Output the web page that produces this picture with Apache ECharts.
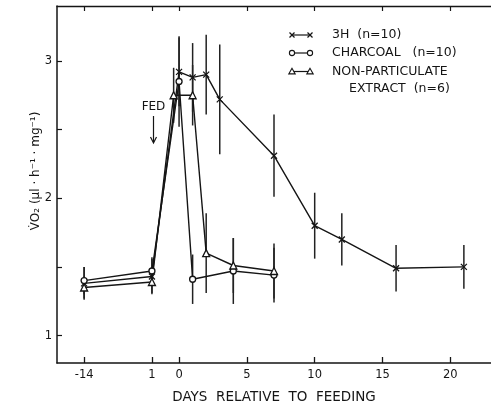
<!DOCTYPE html>
<html><head><meta charset="utf-8">
<script src="https://cdn.jsdelivr.net/npm/echarts@6/dist/echarts.min.js"></script>
<style>html,body{margin:0;padding:0;background:#fff}#c{width:491px;height:409px}</style>
</head><body><div id="c"></div>
<script>
// tick positions (real days) and their printed labels
const tickDays = [-14, -1, 0, 5, 10, 15, 20];
const tickLabels = ['-14', '1', '0', '5', '10', '15', '20'];
const yTicks = [1, 1.5, 2, 2.5, 3];
const yLabels = [1, 2, 3];

// 3H (n=10)
const h3Days = [-14, -1, 0, 1, 2, 3, 7, 10, 12, 16, 21];
const h3Vals = [1.38, 1.43, 2.92, 2.88, 2.90, 2.72, 2.31, 1.80, 1.70, 1.49, 1.50];
const h3Err  = [0.12, 0.13, 0.25, 0.25, 0.29, 0.40, 0.30, 0.24, 0.19, 0.17, 0.16];

// CHARCOAL (n=10)
const chDays = [-14, -1, 0, 1, 4, 7];
const chVals = [1.40, 1.47, 2.85, 1.41, 1.47, 1.44];
const chErr  = [0.10, 0.10, 0.33, 0.18, 0.24, 0.20];

// NON-PARTICULATE EXTRACT (n=6)
const npDays = [-14, -1, -0.2, 1, 2, 4, 7];
const npVals = [1.35, 1.39, 2.75, 2.75, 1.60, 1.51, 1.47];
const npErr  = [0.08, 0.08, 0.20, 0.22, 0.29, 0.20, 0.20];

// broken time axis: map real days to axis position
function xPos(d) {
  if (d >= 0) return d;
  if (d >= -1) return 2 * d;
  return -2 + (d + 1) * 5 / 13;
}
const tickPos = tickDays.map(xPos);
function labelFor(v) {
  for (let i = 0; i < tickPos.length; i++) if (Math.abs(tickPos[i] - v) < 1e-6) return tickLabels[i];
  return '';
}

const INK = '#151515';
const FONT = 'DejaVu Sans';

function pts(days, vals) { return days.map((d, i) => [xPos(d), vals[i]]); }
function errs(days, vals, e) { return days.map((d, i) => [xPos(d), vals[i] - e[i], vals[i] + e[i]]); }

function errSeries(data) {
  return {
    type: 'custom', z: 1, silent: true,
    encode: { x: 0, y: [1, 2] },
    data: data,
    renderItem: function (params, api) {
      const x = api.value(0), lo = api.value(1), hi = api.value(2);
      const p1 = api.coord([x, hi]), p2 = api.coord([x, lo]);
      return { type: 'line', shape: { x1: p1[0], y1: p1[1], x2: p2[0], y2: p2[1] },
               style: { stroke: '#222', lineWidth: 1.5 } };
    }
  };
}

const XSYM = 'path://M0,0L10,10M10,0L0,10';

function lineSeries(name, data, symbol, size) {
  return {
    name: name, type: 'line', z: 3, data: data,
    symbol: symbol, symbolSize: size,
    lineStyle: { color: INK, width: 1.4 },
    itemStyle: { color: '#fff', borderColor: INK, borderWidth: 1.3 },
    emphasis: { disabled: true }
  };
}

const chart = echarts.init(document.getElementById('c'), null, { renderer: 'canvas' });

const axisTextStyle = { color: INK, fontFamily: FONT, fontSize: 11.5 };
const LFONT = '12.5px "' + FONT + '"';

// legend built as graphic
function legendRow(y, kind, lines) {
  const els = [{ type: 'line', shape: { x1: 292, y1: y, x2: 310, y2: y }, style: { stroke: INK, lineWidth: 1.2 } }];
  [292, 310].forEach(function (x) {
    if (kind === 'x') {
      els.push({ type: 'line', shape: { x1: x - 2.5, y1: y - 2.5, x2: x + 2.5, y2: y + 2.5 }, style: { stroke: INK, lineWidth: 1.2 } });
      els.push({ type: 'line', shape: { x1: x - 2.5, y1: y + 2.5, x2: x + 2.5, y2: y - 2.5 }, style: { stroke: INK, lineWidth: 1.2 } });
    } else if (kind === 'o') {
      els.push({ type: 'circle', shape: { cx: x, cy: y, r: 2.6 }, style: { fill: '#fff', stroke: INK, lineWidth: 1.1 } });
    } else {
      els.push({ type: 'polygon', shape: { points: [[x, y - 3.2], [x - 3.2, y + 2.4], [x + 3.2, y + 2.4]] }, style: { fill: '#fff', stroke: INK, lineWidth: 1.1 } });
    }
  });
  lines.forEach(function (l) {
    els.push({ type: 'text', x: l[0], y: l[1], style: { text: l[2], fill: INK, font: LFONT, textVerticalAlign: 'middle' } });
  });
  return els;
}

const graphics = [].concat(
  legendRow(35, 'x', [[332, 35, '3H  (n=10)']]),
  legendRow(53, 'o', [[332, 53, 'CHARCOAL   (n=10)']]),
  legendRow(71.5, 't', [[332, 71.5, 'NON-PARTICULATE'], [349, 88.5, 'EXTRACT  (n=6)']]),
  [
    { type: 'text', x: 153.5, y: 107, style: { text: 'FED', fill: INK, font: '12px "' + FONT + '"', textAlign: 'center', textVerticalAlign: 'middle' } },
    { type: 'line', shape: { x1: 153.5, y1: 116, x2: 153.5, y2: 142 }, style: { stroke: INK, lineWidth: 1.2 } },
    { type: 'polyline', shape: { points: [[150.5, 137], [153.5, 143], [156.5, 137]] }, style: { stroke: INK, lineWidth: 1.2, fill: null } },
    { type: 'text', x: 36, y: 171, rotation: Math.PI / 2,
      style: { text: 'V\u0307O\u2082 (\u03bcl \u00b7 h\u207b\u00b9 \u00b7 mg\u207b\u00b9)', fill: INK, font: '12px "' + FONT + '"', textAlign: 'center', textVerticalAlign: 'middle' } }
  ]
);

chart.setOption({
  animation: false,
  backgroundColor: '#fff',
  grid: { left: 57, right: -9, top: 6, bottom: 46, containLabel: false },
  xAxis: [
    {
      type: 'value', position: 'bottom', min: -9, max: 23,
      axisLine: { show: true, onZero: false, lineStyle: { color: INK, width: 1.5 } },
      axisTick: { show: true, inside: true, length: 6, customValues: tickPos, lineStyle: { color: INK, width: 1.3 } },
      axisLabel: { show: true, customValues: tickPos, formatter: labelFor, margin: 6, ...axisTextStyle },
      splitLine: { show: false },
      name: 'DAYS  RELATIVE  TO  FEEDING', nameLocation: 'middle', nameGap: 27,
      nameTextStyle: { color: INK, fontFamily: FONT, fontSize: 13.5 }
    },
    {
      type: 'value', position: 'top', min: -9, max: 23,
      axisLine: { show: true, onZero: false, lineStyle: { color: INK, width: 1.3 } },
      axisTick: { show: true, inside: true, length: 5, customValues: tickPos, lineStyle: { color: INK, width: 1.2 } },
      axisLabel: { show: false },
      splitLine: { show: false }
    }
  ],
  yAxis: {
    type: 'value', min: 0.8, max: 3.4,
    axisLine: { show: true, onZero: false, lineStyle: { color: INK, width: 1.5 } },
    axisTick: { show: true, inside: true, length: 5, customValues: yTicks, lineStyle: { color: INK, width: 1.2 } },
    axisLabel: { show: true, customValues: yLabels, formatter: function (v) { return String(Math.round(v)); }, margin: 5, ...axisTextStyle },
    splitLine: { show: false }
  },
  graphic: graphics,
  series: [
    errSeries(errs(h3Days, h3Vals, h3Err)),
    errSeries(errs(chDays, chVals, chErr)),
    errSeries(errs(npDays, npVals, npErr)),
    lineSeries('3H (n=10)', pts(h3Days, h3Vals), XSYM, 6),
    lineSeries('CHARCOAL (n=10)', pts(chDays, chVals), 'circle', 6),
    lineSeries('NON-PARTICULATE EXTRACT (n=6)', pts(npDays, npVals), 'triangle', 7)
  ]
});
</script>
</body></html>
